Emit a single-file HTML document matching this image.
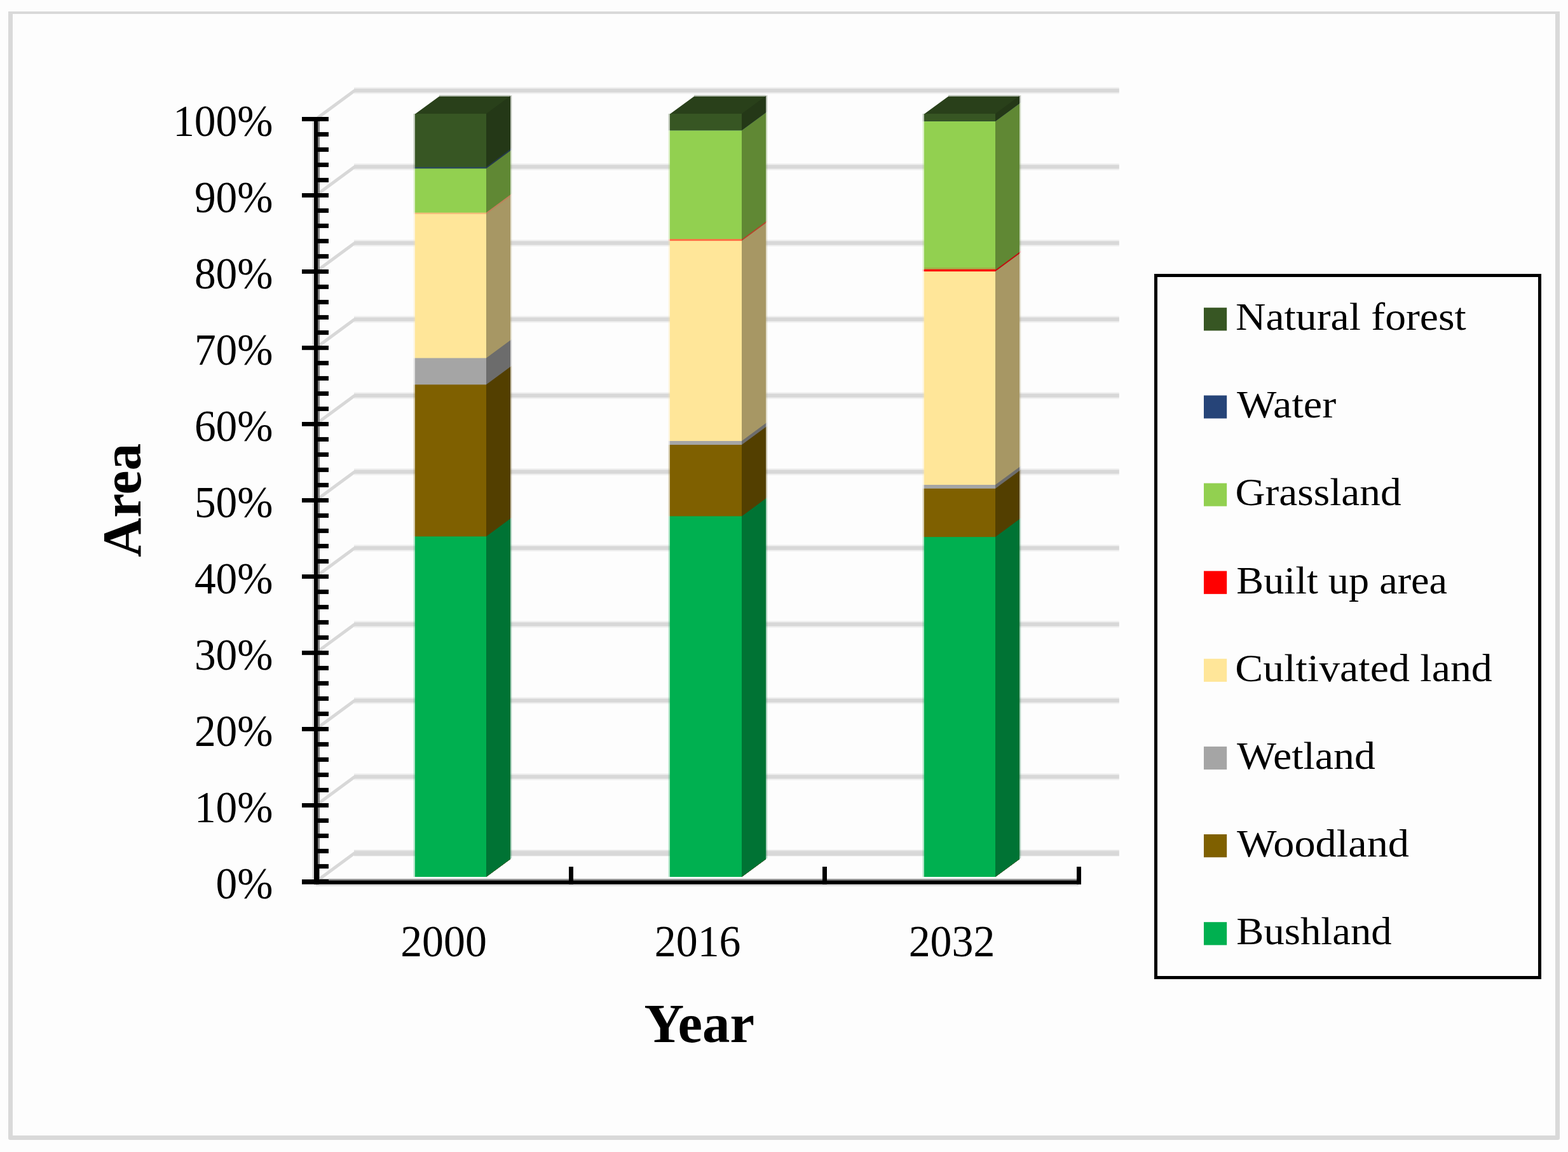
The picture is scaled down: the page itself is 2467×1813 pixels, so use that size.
<!DOCTYPE html>
<html lang="en"><head><meta charset="utf-8"><title>Land cover area by year</title>
<style>
html,body{margin:0;padding:0;background:#fdfdfd;}
body{width:2467px;height:1813px;overflow:hidden;}
svg{display:block;font-family:"Liberation Serif","DejaVu Serif",serif;fill:#000;}
</style></head><body>
<svg width="2467" height="1813" viewBox="0 0 2467 1813">
<rect x="0" y="0" width="2467" height="1813" fill="#fdfdfd"/>
<path fill="#d9d9d9" fill-rule="evenodd" d="M13 18H2454V1791a3 3 0 0 1-3 3H16a3 3 0 0 1-3-3Z M20 22V1787H2447V22Z"/>
<rect x="557.00" y="137.10" width="1203.80" height="10.80" fill="#f1f1f1"/>
<rect x="557.00" y="257.10" width="1203.80" height="10.80" fill="#f1f1f1"/>
<rect x="557.00" y="377.10" width="1203.80" height="10.80" fill="#f1f1f1"/>
<rect x="557.00" y="497.10" width="1203.80" height="10.80" fill="#f1f1f1"/>
<rect x="557.00" y="617.10" width="1203.80" height="10.80" fill="#f1f1f1"/>
<rect x="557.00" y="737.10" width="1203.80" height="10.80" fill="#f1f1f1"/>
<rect x="557.00" y="857.10" width="1203.80" height="10.80" fill="#f1f1f1"/>
<rect x="557.00" y="977.10" width="1203.80" height="10.80" fill="#f1f1f1"/>
<rect x="557.00" y="1097.10" width="1203.80" height="10.80" fill="#f1f1f1"/>
<rect x="557.00" y="1217.10" width="1203.80" height="10.80" fill="#f1f1f1"/>
<rect x="557.00" y="1337.10" width="1203.80" height="10.80" fill="#f1f1f1"/>
<line x1="500.00" y1="185.20" x2="558.00" y2="142.50" stroke="#d8d8d8" stroke-width="5"/>
<rect x="557.00" y="139.40" width="1203.80" height="6.20" fill="#d8d8d8"/>
<line x1="500.00" y1="305.20" x2="558.00" y2="262.50" stroke="#d8d8d8" stroke-width="5"/>
<rect x="557.00" y="259.40" width="1203.80" height="6.20" fill="#d8d8d8"/>
<line x1="500.00" y1="425.20" x2="558.00" y2="382.50" stroke="#d8d8d8" stroke-width="5"/>
<rect x="557.00" y="379.40" width="1203.80" height="6.20" fill="#d8d8d8"/>
<line x1="500.00" y1="545.20" x2="558.00" y2="502.50" stroke="#d8d8d8" stroke-width="5"/>
<rect x="557.00" y="499.40" width="1203.80" height="6.20" fill="#d8d8d8"/>
<line x1="500.00" y1="665.20" x2="558.00" y2="622.50" stroke="#d8d8d8" stroke-width="5"/>
<rect x="557.00" y="619.40" width="1203.80" height="6.20" fill="#d8d8d8"/>
<line x1="500.00" y1="785.20" x2="558.00" y2="742.50" stroke="#d8d8d8" stroke-width="5"/>
<rect x="557.00" y="739.40" width="1203.80" height="6.20" fill="#d8d8d8"/>
<line x1="500.00" y1="905.20" x2="558.00" y2="862.50" stroke="#d8d8d8" stroke-width="5"/>
<rect x="557.00" y="859.40" width="1203.80" height="6.20" fill="#d8d8d8"/>
<line x1="500.00" y1="1025.20" x2="558.00" y2="982.50" stroke="#d8d8d8" stroke-width="5"/>
<rect x="557.00" y="979.40" width="1203.80" height="6.20" fill="#d8d8d8"/>
<line x1="500.00" y1="1145.20" x2="558.00" y2="1102.50" stroke="#d8d8d8" stroke-width="5"/>
<rect x="557.00" y="1099.40" width="1203.80" height="6.20" fill="#d8d8d8"/>
<line x1="500.00" y1="1265.20" x2="558.00" y2="1222.50" stroke="#d8d8d8" stroke-width="5"/>
<rect x="557.00" y="1219.40" width="1203.80" height="6.20" fill="#d8d8d8"/>
<line x1="500.00" y1="1385.20" x2="558.00" y2="1342.50" stroke="#d8d8d8" stroke-width="5"/>
<rect x="557.00" y="1338.10" width="1203.80" height="1.40" fill="#e4e4e4"/>
<rect x="557.00" y="1339.40" width="1203.80" height="7.40" fill="#d8d8d8"/>
<rect x="650.60" y="179.00" width="2.40" height="83.80" fill="#375623" fill-opacity="0.3"/>
<polygon points="803.00,151.00 805.20,149.40 805.20,233.20 803.00,234.80" fill="#243817" fill-opacity="0.3"/>
<rect x="650.60" y="262.80" width="2.40" height="2.50" fill="#2b4a58" fill-opacity="0.3"/>
<polygon points="803.00,234.80 805.20,233.20 805.20,235.70 803.00,237.30" fill="#25394a" fill-opacity="0.3"/>
<rect x="650.60" y="265.30" width="2.40" height="69.30" fill="#92d050" fill-opacity="0.3"/>
<polygon points="803.00,237.30 805.20,235.70 805.20,305.00 803.00,306.60" fill="#608834" fill-opacity="0.3"/>
<rect x="650.60" y="334.60" width="2.40" height="2.40" fill="#f5bd7c" fill-opacity="0.3"/>
<polygon points="803.00,306.60 805.20,305.00 805.20,307.40 803.00,309.00" fill="#c0805a" fill-opacity="0.3"/>
<rect x="650.60" y="337.00" width="2.40" height="226.50" fill="#ffe699" fill-opacity="0.3"/>
<polygon points="803.00,309.00 805.20,307.40 805.20,533.90 803.00,535.50" fill="#a79764" fill-opacity="0.3"/>
<rect x="650.60" y="563.50" width="2.40" height="41.80" fill="#a5a5a5" fill-opacity="0.3"/>
<polygon points="803.00,535.50 805.20,533.90 805.20,575.70 803.00,577.30" fill="#6c6c6c" fill-opacity="0.3"/>
<rect x="650.60" y="605.30" width="2.40" height="239.00" fill="#7f6000" fill-opacity="0.3"/>
<polygon points="803.00,577.30 805.20,575.70 805.20,814.70 803.00,816.30" fill="#533f00" fill-opacity="0.3"/>
<rect x="650.60" y="844.30" width="2.40" height="535.70" fill="#00b050" fill-opacity="0.3"/>
<polygon points="803.00,816.30 805.20,814.70 805.20,1350.40 803.00,1352.00" fill="#007334" fill-opacity="0.3"/>
<rect x="691.00" y="149.60" width="112.00" height="2.20" fill="#29401a" fill-opacity="0.3"/>
<polygon points="653.00,179.50 765.00,179.50 765.00,182.00 803.00,154.80 803.00,151.80 691.00,151.80" fill="#29401a"/>
<rect x="653.00" y="179.00" width="112.00" height="1201.00" fill="#375623"/>
<rect x="653.00" y="262.80" width="112.00" height="1117.20" fill="#2b4a58"/>
<rect x="653.00" y="265.30" width="112.00" height="1114.70" fill="#92d050"/>
<rect x="653.00" y="334.60" width="112.00" height="1045.40" fill="#f5bd7c"/>
<rect x="653.00" y="337.00" width="112.00" height="1043.00" fill="#ffe699"/>
<rect x="653.00" y="563.50" width="112.00" height="816.50" fill="#a5a5a5"/>
<rect x="653.00" y="605.30" width="112.00" height="774.70" fill="#7f6000"/>
<rect x="653.00" y="844.30" width="112.00" height="535.70" fill="#00b050"/>
<polygon points="765.00,179.00 803.00,151.00 803.00,1352.00 765.00,1380.00" fill="#243817"/>
<polygon points="765.00,262.80 803.00,234.80 803.00,1352.00 765.00,1380.00" fill="#25394a"/>
<polygon points="765.00,265.30 803.00,237.30 803.00,1352.00 765.00,1380.00" fill="#608834"/>
<polygon points="765.00,334.60 803.00,306.60 803.00,1352.00 765.00,1380.00" fill="#c0805a"/>
<polygon points="765.00,337.00 803.00,309.00 803.00,1352.00 765.00,1380.00" fill="#a79764"/>
<polygon points="765.00,563.50 803.00,535.50 803.00,1352.00 765.00,1380.00" fill="#6c6c6c"/>
<polygon points="765.00,605.30 803.00,577.30 803.00,1352.00 765.00,1380.00" fill="#533f00"/>
<polygon points="765.00,844.30 803.00,816.30 803.00,1352.00 765.00,1380.00" fill="#007334"/>
<rect x="1051.60" y="179.00" width="2.40" height="26.00" fill="#375623" fill-opacity="0.3"/>
<polygon points="1205.00,151.00 1207.20,149.40 1207.20,175.40 1205.00,177.00" fill="#243817" fill-opacity="0.3"/>
<rect x="1051.60" y="205.00" width="2.40" height="0.30" fill="#264478" fill-opacity="0.3"/>
<polygon points="1205.00,177.00 1207.20,175.40 1207.20,175.70 1205.00,177.30" fill="#192d4f" fill-opacity="0.3"/>
<rect x="1051.60" y="205.30" width="2.40" height="170.90" fill="#92d050" fill-opacity="0.3"/>
<polygon points="1205.00,177.30 1207.20,175.70 1207.20,346.60 1205.00,348.20" fill="#608834" fill-opacity="0.3"/>
<rect x="1051.60" y="376.20" width="2.40" height="2.90" fill="#ff6f45" fill-opacity="0.3"/>
<polygon points="1205.00,348.20 1207.20,346.60 1207.20,349.50 1205.00,351.10" fill="#b8422a" fill-opacity="0.3"/>
<rect x="1051.60" y="379.10" width="2.40" height="314.90" fill="#ffe699" fill-opacity="0.3"/>
<polygon points="1205.00,351.10 1207.20,349.50 1207.20,664.40 1205.00,666.00" fill="#a79764" fill-opacity="0.3"/>
<rect x="1051.60" y="694.00" width="2.40" height="6.00" fill="#a5a5a5" fill-opacity="0.3"/>
<polygon points="1205.00,666.00 1207.20,664.40 1207.20,670.40 1205.00,672.00" fill="#6c6c6c" fill-opacity="0.3"/>
<rect x="1051.60" y="700.00" width="2.40" height="112.40" fill="#7f6000" fill-opacity="0.3"/>
<polygon points="1205.00,672.00 1207.20,670.40 1207.20,782.80 1205.00,784.40" fill="#533f00" fill-opacity="0.3"/>
<rect x="1051.60" y="812.40" width="2.40" height="567.60" fill="#00b050" fill-opacity="0.3"/>
<polygon points="1205.00,784.40 1207.20,782.80 1207.20,1350.40 1205.00,1352.00" fill="#007334" fill-opacity="0.3"/>
<rect x="1092.00" y="149.60" width="113.00" height="2.20" fill="#29401a" fill-opacity="0.3"/>
<polygon points="1054.00,179.50 1167.00,179.50 1167.00,182.00 1205.00,154.80 1205.00,151.80 1092.00,151.80" fill="#29401a"/>
<rect x="1054.00" y="179.00" width="113.00" height="1201.00" fill="#375623"/>
<rect x="1054.00" y="205.00" width="113.00" height="1175.00" fill="#264478"/>
<rect x="1054.00" y="205.30" width="113.00" height="1174.70" fill="#92d050"/>
<rect x="1054.00" y="376.20" width="113.00" height="1003.80" fill="#ff6f45"/>
<rect x="1054.00" y="379.10" width="113.00" height="1000.90" fill="#ffe699"/>
<rect x="1054.00" y="694.00" width="113.00" height="686.00" fill="#a5a5a5"/>
<rect x="1054.00" y="700.00" width="113.00" height="680.00" fill="#7f6000"/>
<rect x="1054.00" y="812.40" width="113.00" height="567.60" fill="#00b050"/>
<polygon points="1167.00,179.00 1205.00,151.00 1205.00,1352.00 1167.00,1380.00" fill="#243817"/>
<polygon points="1167.00,205.00 1205.00,177.00 1205.00,1352.00 1167.00,1380.00" fill="#192d4f"/>
<polygon points="1167.00,205.30 1205.00,177.30 1205.00,1352.00 1167.00,1380.00" fill="#608834"/>
<polygon points="1167.00,376.70 1205.00,348.70 1205.00,1352.00 1167.00,1380.00" fill="#b8422a"/>
<polygon points="1167.00,379.10 1205.00,351.10 1205.00,1352.00 1167.00,1380.00" fill="#a79764"/>
<polygon points="1167.00,694.00 1205.00,666.00 1205.00,1352.00 1167.00,1380.00" fill="#6c6c6c"/>
<polygon points="1167.00,700.00 1205.00,672.00 1205.00,1352.00 1167.00,1380.00" fill="#533f00"/>
<polygon points="1167.00,812.40 1205.00,784.40 1205.00,1352.00 1167.00,1380.00" fill="#007334"/>
<rect x="1451.60" y="179.00" width="2.40" height="11.80" fill="#375623" fill-opacity="0.3"/>
<polygon points="1604.00,151.00 1606.20,149.40 1606.20,161.20 1604.00,162.80" fill="#243817" fill-opacity="0.3"/>
<rect x="1451.60" y="190.80" width="2.40" height="0.20" fill="#264478" fill-opacity="0.3"/>
<polygon points="1604.00,162.80 1606.20,161.20 1606.20,161.40 1604.00,163.00" fill="#192d4f" fill-opacity="0.3"/>
<rect x="1451.60" y="191.00" width="2.40" height="233.00" fill="#92d050" fill-opacity="0.3"/>
<polygon points="1604.00,163.00 1606.20,161.40 1606.20,394.40 1604.00,396.00" fill="#608834" fill-opacity="0.3"/>
<rect x="1451.60" y="424.00" width="2.40" height="3.20" fill="#ff0000" fill-opacity="0.3"/>
<polygon points="1604.00,396.00 1606.20,394.40 1606.20,397.60 1604.00,399.20" fill="#c01010" fill-opacity="0.3"/>
<rect x="1451.60" y="427.20" width="2.40" height="335.80" fill="#ffe699" fill-opacity="0.3"/>
<polygon points="1604.00,399.20 1606.20,397.60 1606.20,733.40 1604.00,735.00" fill="#a79764" fill-opacity="0.3"/>
<rect x="1451.60" y="763.00" width="2.40" height="5.90" fill="#a5a5a5" fill-opacity="0.3"/>
<polygon points="1604.00,735.00 1606.20,733.40 1606.20,739.30 1604.00,740.90" fill="#6c6c6c" fill-opacity="0.3"/>
<rect x="1451.60" y="768.90" width="2.40" height="76.20" fill="#7f6000" fill-opacity="0.3"/>
<polygon points="1604.00,740.90 1606.20,739.30 1606.20,815.50 1604.00,817.10" fill="#533f00" fill-opacity="0.3"/>
<rect x="1451.60" y="845.10" width="2.40" height="534.90" fill="#00b050" fill-opacity="0.3"/>
<polygon points="1604.00,817.10 1606.20,815.50 1606.20,1350.40 1604.00,1352.00" fill="#007334" fill-opacity="0.3"/>
<rect x="1492.00" y="149.60" width="112.00" height="2.20" fill="#29401a" fill-opacity="0.3"/>
<polygon points="1454.00,179.50 1566.00,179.50 1566.00,182.00 1604.00,154.80 1604.00,151.80 1492.00,151.80" fill="#29401a"/>
<rect x="1454.00" y="179.00" width="112.00" height="1201.00" fill="#375623"/>
<rect x="1454.00" y="190.80" width="112.00" height="1189.20" fill="#264478"/>
<rect x="1454.00" y="191.00" width="112.00" height="1189.00" fill="#92d050"/>
<rect x="1454.00" y="421.40" width="112.00" height="958.60" fill="#a9a445"/>
<rect x="1454.00" y="424.00" width="112.00" height="956.00" fill="#ff0000"/>
<rect x="1454.00" y="427.20" width="112.00" height="952.80" fill="#ffe699"/>
<rect x="1454.00" y="763.00" width="112.00" height="617.00" fill="#a5a5a5"/>
<rect x="1454.00" y="768.90" width="112.00" height="611.10" fill="#7f6000"/>
<rect x="1454.00" y="845.10" width="112.00" height="534.90" fill="#00b050"/>
<polygon points="1566.00,179.00 1604.00,151.00 1604.00,1352.00 1566.00,1380.00" fill="#243817"/>
<polygon points="1566.00,190.80 1604.00,162.80 1604.00,1352.00 1566.00,1380.00" fill="#192d4f"/>
<polygon points="1566.00,191.00 1604.00,163.00 1604.00,1352.00 1566.00,1380.00" fill="#608834"/>
<polygon points="1566.00,424.80 1604.00,396.80 1604.00,1352.00 1566.00,1380.00" fill="#c01010"/>
<polygon points="1566.00,427.20 1604.00,399.20 1604.00,1352.00 1566.00,1380.00" fill="#a79764"/>
<polygon points="1566.00,763.00 1604.00,735.00 1604.00,1352.00 1566.00,1380.00" fill="#6c6c6c"/>
<polygon points="1566.00,768.90 1604.00,740.90 1604.00,1352.00 1566.00,1380.00" fill="#533f00"/>
<polygon points="1566.00,845.10 1604.00,817.10 1604.00,1352.00 1566.00,1380.00" fill="#007334"/>
<rect x="491.20" y="191.00" width="2.80" height="1193.00" fill="#dadada"/>
<rect x="500.00" y="190.00" width="3.00" height="1195.00" fill="#7f7f7f"/>
<rect x="500.00" y="1383.00" width="1197.00" height="2.60" fill="#999999"/>
<rect x="497.00" y="1391.70" width="1200.00" height="2.80" fill="#dedede"/>
<rect x="494.00" y="184.00" width="6.00" height="1207.70" fill="#000"/>
<rect x="475.00" y="184.00" width="42.00" height="6.80" fill="#000"/>
<rect x="500.00" y="207.90" width="17.00" height="7.00" fill="#000"/>
<rect x="500.00" y="231.90" width="17.00" height="7.00" fill="#000"/>
<rect x="500.00" y="255.90" width="17.00" height="7.00" fill="#000"/>
<rect x="500.00" y="279.90" width="17.00" height="7.00" fill="#000"/>
<rect x="475.00" y="304.00" width="42.00" height="6.80" fill="#000"/>
<rect x="500.00" y="327.90" width="17.00" height="7.00" fill="#000"/>
<rect x="500.00" y="351.90" width="17.00" height="7.00" fill="#000"/>
<rect x="500.00" y="375.90" width="17.00" height="7.00" fill="#000"/>
<rect x="500.00" y="399.90" width="17.00" height="7.00" fill="#000"/>
<rect x="475.00" y="424.00" width="42.00" height="6.80" fill="#000"/>
<rect x="500.00" y="447.90" width="17.00" height="7.00" fill="#000"/>
<rect x="500.00" y="471.90" width="17.00" height="7.00" fill="#000"/>
<rect x="500.00" y="495.90" width="17.00" height="7.00" fill="#000"/>
<rect x="500.00" y="519.90" width="17.00" height="7.00" fill="#000"/>
<rect x="475.00" y="544.00" width="42.00" height="6.80" fill="#000"/>
<rect x="500.00" y="567.90" width="17.00" height="7.00" fill="#000"/>
<rect x="500.00" y="591.90" width="17.00" height="7.00" fill="#000"/>
<rect x="500.00" y="615.90" width="17.00" height="7.00" fill="#000"/>
<rect x="500.00" y="639.90" width="17.00" height="7.00" fill="#000"/>
<rect x="475.00" y="664.00" width="42.00" height="6.80" fill="#000"/>
<rect x="500.00" y="687.90" width="17.00" height="7.00" fill="#000"/>
<rect x="500.00" y="711.90" width="17.00" height="7.00" fill="#000"/>
<rect x="500.00" y="735.90" width="17.00" height="7.00" fill="#000"/>
<rect x="500.00" y="759.90" width="17.00" height="7.00" fill="#000"/>
<rect x="475.00" y="784.00" width="42.00" height="6.80" fill="#000"/>
<rect x="500.00" y="807.90" width="17.00" height="7.00" fill="#000"/>
<rect x="500.00" y="831.90" width="17.00" height="7.00" fill="#000"/>
<rect x="500.00" y="855.90" width="17.00" height="7.00" fill="#000"/>
<rect x="500.00" y="879.90" width="17.00" height="7.00" fill="#000"/>
<rect x="475.00" y="904.00" width="42.00" height="6.80" fill="#000"/>
<rect x="500.00" y="927.90" width="17.00" height="7.00" fill="#000"/>
<rect x="500.00" y="951.90" width="17.00" height="7.00" fill="#000"/>
<rect x="500.00" y="975.90" width="17.00" height="7.00" fill="#000"/>
<rect x="500.00" y="999.90" width="17.00" height="7.00" fill="#000"/>
<rect x="475.00" y="1024.00" width="42.00" height="6.80" fill="#000"/>
<rect x="500.00" y="1047.90" width="17.00" height="7.00" fill="#000"/>
<rect x="500.00" y="1071.90" width="17.00" height="7.00" fill="#000"/>
<rect x="500.00" y="1095.90" width="17.00" height="7.00" fill="#000"/>
<rect x="500.00" y="1119.90" width="17.00" height="7.00" fill="#000"/>
<rect x="475.00" y="1144.00" width="42.00" height="6.80" fill="#000"/>
<rect x="500.00" y="1167.90" width="17.00" height="7.00" fill="#000"/>
<rect x="500.00" y="1191.90" width="17.00" height="7.00" fill="#000"/>
<rect x="500.00" y="1215.90" width="17.00" height="7.00" fill="#000"/>
<rect x="500.00" y="1239.90" width="17.00" height="7.00" fill="#000"/>
<rect x="475.00" y="1264.00" width="42.00" height="6.80" fill="#000"/>
<rect x="500.00" y="1287.90" width="17.00" height="7.00" fill="#000"/>
<rect x="500.00" y="1311.90" width="17.00" height="7.00" fill="#000"/>
<rect x="500.00" y="1335.90" width="17.00" height="7.00" fill="#000"/>
<rect x="500.00" y="1359.90" width="17.00" height="7.00" fill="#000"/>
<rect x="475.00" y="1384.00" width="42.00" height="6.80" fill="#000"/>
<rect x="475.00" y="1385.50" width="1226.00" height="6.20" fill="#000"/>
<rect x="494.00" y="1364.00" width="8.00" height="27.70" fill="#000"/>
<rect x="895.00" y="1364.00" width="7.00" height="27.70" fill="#000"/>
<rect x="1294.00" y="1364.00" width="7.00" height="27.70" fill="#000"/>
<rect x="1694.00" y="1364.00" width="7.00" height="27.70" fill="#000"/>
<text transform="translate(272.15,213.70) scale(0.9920,1.0120)" font-size="68">100%</text>
<text transform="translate(305.88,333.70) scale(0.9920,1.0120)" font-size="68">90%</text>
<text transform="translate(305.88,453.70) scale(0.9920,1.0120)" font-size="68">80%</text>
<text transform="translate(305.88,573.70) scale(0.9920,1.0120)" font-size="68">70%</text>
<text transform="translate(305.88,693.70) scale(0.9920,1.0120)" font-size="68">60%</text>
<text transform="translate(305.88,813.70) scale(0.9920,1.0120)" font-size="68">50%</text>
<text transform="translate(305.88,933.70) scale(0.9920,1.0120)" font-size="68">40%</text>
<text transform="translate(305.88,1053.70) scale(0.9920,1.0120)" font-size="68">30%</text>
<text transform="translate(305.88,1173.70) scale(0.9920,1.0120)" font-size="68">20%</text>
<text transform="translate(305.88,1293.70) scale(0.9920,1.0120)" font-size="68">10%</text>
<text transform="translate(339.61,1413.70) scale(0.9920,1.0120)" font-size="68">0%</text>
<text transform="translate(630.17,1505.30) scale(0.9980,1.0120)" font-size="68">2000</text>
<text transform="translate(1029.83,1505.30) scale(0.9980,1.0120)" font-size="68">2016</text>
<text transform="translate(1429.68,1505.30) scale(0.9980,1.0120)" font-size="68">2032</text>
<text transform="translate(1013.46,1640.40) scale(1.0006,1.0000)" font-size="86.8" font-weight="bold">Year</text>
<text transform="translate(220.80,876.66) rotate(-90) scale(0.9979,1.0000)" font-size="85.8" font-weight="bold">Area</text>
<rect x="1816.00" y="431.00" width="609.00" height="5.00" fill="#000"/>
<rect x="1816.00" y="1536.00" width="609.00" height="5.00" fill="#000"/>
<rect x="1816.00" y="431.00" width="5.00" height="1110.00" fill="#000"/>
<rect x="2420.00" y="431.00" width="5.00" height="1110.00" fill="#000"/>
<rect x="1894.00" y="484.20" width="36.20" height="36.20" fill="#375623"/>
<text transform="translate(1944.03,519.20) scale(1.0712,1.0000)" font-size="61.3">Natural forest</text>
<rect x="1894.00" y="622.34" width="36.20" height="36.20" fill="#264478"/>
<text transform="translate(1946.00,657.34) scale(1.0785,1.0000)" font-size="61.3">Water</text>
<rect x="1894.00" y="760.48" width="36.20" height="36.20" fill="#92d050"/>
<text transform="translate(1943.39,795.48) scale(1.0660,1.0000)" font-size="61.3">Grassland</text>
<rect x="1894.00" y="898.62" width="36.20" height="36.20" fill="#ff0000"/>
<text transform="translate(1945.37,933.62) scale(1.0476,1.0000)" font-size="61.3">Built up area</text>
<rect x="1894.00" y="1036.76" width="36.20" height="36.20" fill="#ffe699"/>
<text transform="translate(1943.36,1071.76) scale(1.0753,1.0000)" font-size="61.3">Cultivated land</text>
<rect x="1894.00" y="1174.90" width="36.20" height="36.20" fill="#a5a5a5"/>
<text transform="translate(1946.00,1209.90) scale(1.0753,1.0000)" font-size="61.3">Wetland</text>
<rect x="1894.00" y="1313.04" width="36.20" height="36.20" fill="#7f6000"/>
<text transform="translate(1946.00,1348.04) scale(1.0821,1.0000)" font-size="61.3">Woodland</text>
<rect x="1894.00" y="1451.18" width="36.20" height="36.20" fill="#00b050"/>
<text transform="translate(1945.36,1486.18) scale(1.0552,1.0000)" font-size="61.3">Bushland</text>
</svg>
</body></html>
